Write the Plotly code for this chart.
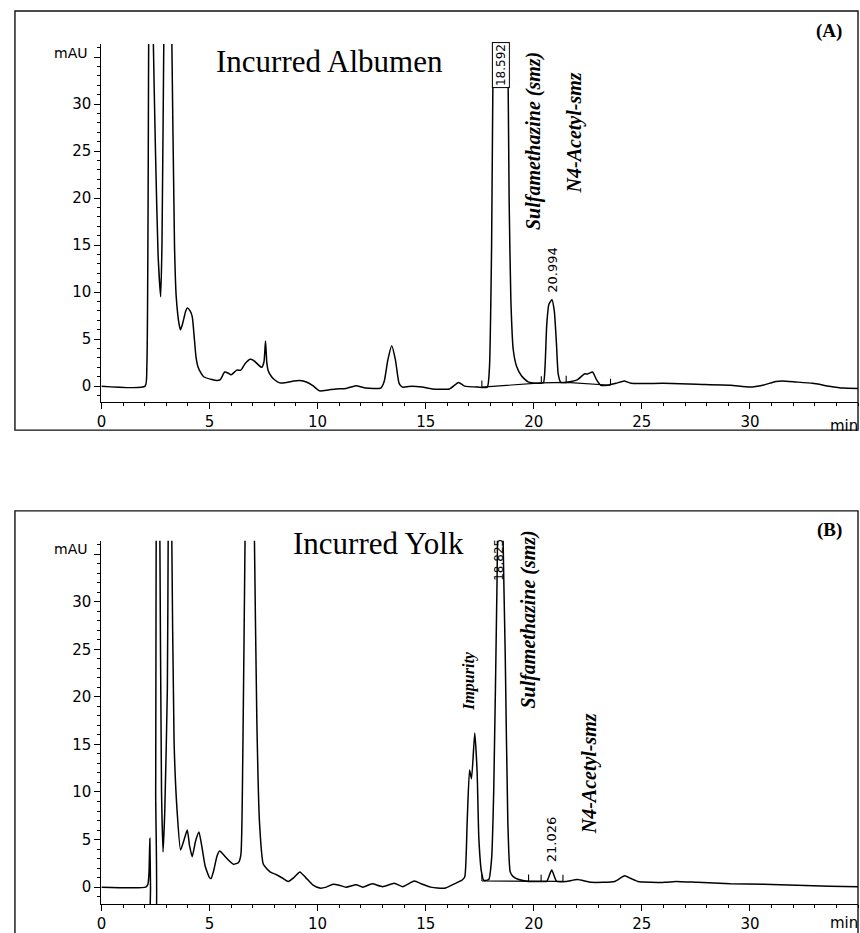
import plotly.graph_objects as go

# ---------------- data ----------------
# Panel A: Incurred Albumen
time_a = [0.0, 2.02, 2.1, 2.16, 2.2, 2.3, 2.39, 2.5, 2.62, 2.74, 2.8, 2.89, 3.05, 3.25, 3.38, 3.46,
          3.6, 3.66, 3.75, 3.9, 3.97, 4.1, 4.2, 4.3, 4.38, 4.46, 4.6, 4.73, 5.11, 5.35, 5.5, 5.7,
          5.85, 6.0, 6.26, 6.45, 6.65, 6.88, 7.03, 7.2, 7.41, 7.52, 7.59, 7.65, 7.72, 7.87, 8.05,
          8.25, 8.56, 8.9, 9.17, 9.48, 9.78, 10.09, 10.5, 10.86, 11.32, 11.77, 12.23, 12.92, 13.08,
          13.25, 13.43, 13.6, 13.77, 13.92, 14.38, 14.84, 15.3, 16.1, 16.52, 16.8, 17.4, 17.85,
          17.95, 18.05, 18.13, 18.45, 18.79, 18.86, 18.94, 19.05, 19.2, 19.43, 19.74, 20.2, 20.45,
          20.52, 20.6, 20.7, 20.84, 20.95, 21.05, 21.13, 21.25, 21.73, 22.03, 22.34, 22.5, 22.72,
          22.9, 23.1, 23.4, 23.8, 24.18, 24.5, 26.0, 27.55, 29.1, 30.0, 30.6, 31.2, 31.5, 32.1,
          32.9, 33.67, 34.3, 35.0]
mau_a = [0.0, 0.0, 2.0, 20.0, 45.0, 60.0, 38.0, 25.0, 14.0, 9.5, 15.0, 38.0, 70.0, 38.0, 15.0, 9.5,
         6.5, 6.0, 6.6, 8.0, 8.3, 8.0, 7.4, 5.0, 3.0, 2.1, 1.4, 1.0, 0.7, 0.6, 0.7, 1.5,
         1.4, 1.2, 1.7, 1.7, 2.4, 2.85, 2.75, 2.4, 2.0, 2.6, 4.8, 2.5, 1.6, 1.0, 0.6,
         0.35, 0.4, 0.55, 0.6, 0.45, 0.05, -0.5, -0.4, -0.3, -0.25, 0.05, -0.2, -0.2, 0.5,
         2.8, 4.3, 2.8, 0.3, -0.1, 0.0, -0.1, -0.3, -0.3, 0.4, 0.0, -0.1, -0.1,
         2.0, 15.0, 38.0, 80.0, 38.0, 19.9, 9.2, 3.9, 2.15, 1.1, 0.45, 0.3, 0.4,
         2.0, 6.5, 8.7, 9.2, 8.0, 4.5, 1.3, 0.4, 0.5, 0.7, 1.3, 1.3, 1.5,
         0.7, 0.1, 0.1, 0.3, 0.55, 0.3, 0.3, 0.2, 0.1, -0.1, 0.1, 0.5, 0.55, 0.45,
         0.3, 0.0, -0.2, -0.25]
base_t_a = [17.6, 20.35, 21.5, 23.55]
base_y_a = [-0.1, 0.35, 0.4, 0.1]

# Panel B: Incurred Yolk
time_b = [0.0, 2.05, 2.15, 2.2, 2.24, 2.27, 2.29, 2.48, 2.51, 2.54, 2.62, 2.7, 2.78, 2.85, 2.93,
          3.05, 3.09, 3.17, 3.25, 3.36, 3.5, 3.66, 3.8, 3.97, 4.08, 4.2, 4.35, 4.51, 4.65, 4.8,
          5.0, 5.07, 5.2, 5.35, 5.47, 5.65, 5.81, 6.11, 6.34, 6.45, 6.54, 6.65, 6.86, 7.07, 7.19,
          7.31, 7.49, 7.8, 8.1, 8.41, 8.64, 8.9, 9.18, 9.45, 9.79, 10.1, 10.4, 10.71, 11.0,
          11.32, 11.78, 12.09, 12.52, 13.01, 13.55, 13.93, 14.47, 14.85, 15.23, 15.54, 15.92,
          16.38, 16.69, 16.81, 16.92, 17.03, 17.12, 17.27, 17.38, 17.46, 17.58, 17.69, 17.92,
          18.05, 18.15, 18.3, 18.33, 18.45, 18.57, 18.68, 18.8, 18.91, 19.05, 19.3, 19.76,
          20.4, 20.6, 20.83, 21.06, 21.5, 22.02, 22.67, 23.74, 24.2, 24.5, 24.81, 26.04,
          26.57, 27.57, 29.1, 30.63, 32.17, 33.7, 35.0]
mau_b = [0.0, 0.0, 0.3, 1.5, 5.1, 0.0, -5.0, -5.0, 10.0, 45.0, 70.0, 38.0, 10.0, 3.7, 8.0,
         20.9, 38.0, 70.0, 38.0, 15.3, 8.0, 3.9, 4.8, 6.0, 4.3, 3.2, 4.8, 5.8, 4.2, 2.2,
         1.0, 0.9, 1.8, 3.3, 3.8, 3.4, 3.0, 2.4, 2.6, 3.4, 13.9, 38.0, 80.0, 38.0, 17.4,
         6.9, 2.4, 1.6, 1.3, 0.9, 0.6, 1.0, 1.6, 1.0, 0.2, -0.1, 0.0, 0.3, 0.2,
         0.0, 0.25, 0.0, 0.35, 0.05, 0.4, 0.05, 0.65, 0.3, 0.0, -0.1, -0.1,
         0.4, 0.75, 1.1, 6.9, 12.3, 11.4, 16.2, 12.1, 5.1, 1.6, 0.7, 0.8,
         3.0, 10.4, 32.0, 38.0, 80.0, 38.0, 24.4, 6.9, 1.6, 1.1, 0.8, 0.6,
         0.6, 0.6, 1.8, 0.6, 0.6, 0.8, 0.5, 0.6, 1.2, 0.9, 0.6, 0.5,
         0.6, 0.5, 0.35, 0.3, 0.2, 0.1, 0.05]
base_t_b = [17.6, 19.76, 20.34, 21.35]
base_y_b = [0.65, 0.62, 0.6, 0.6]

y_ticks = [0, 5, 10, 15, 20, 25, 30, 35]
y_tick_text = ["0", "5", "10", "15", "20", "25", "30", ""]
x_ticks = [0, 5, 10, 15, 20, 25, 30]

W, H = 860, 933
def px(x):
    return x / W
def py(y):
    return 1 - y / H

def event_marks(ts, ys, h=0.7):
    xs, yv = [], []
    for t, y in zip(ts, ys):
        xs += [t, t, None]
        yv += [y, y + h, None]
    return xs, yv

trace_line = dict(color="black", width=1.5, shape="spline", smoothing=0.5)
thin = dict(color="black", width=1.1)

fig = go.Figure()
fig.add_trace(go.Scatter(x=time_a, y=mau_a, mode="lines", line=trace_line,
                         xaxis="x", yaxis="y", showlegend=False, hoverinfo="skip"))
fig.add_trace(go.Scatter(x=base_t_a, y=base_y_a, mode="lines", line=thin,
                         xaxis="x", yaxis="y", showlegend=False, hoverinfo="skip"))
ex, ey = event_marks(base_t_a, base_y_a)
fig.add_trace(go.Scatter(x=ex, y=ey, mode="lines", line=thin,
                         xaxis="x", yaxis="y", showlegend=False, hoverinfo="skip"))

fig.add_trace(go.Scatter(x=time_b, y=mau_b, mode="lines", line=trace_line,
                         xaxis="x2", yaxis="y2", showlegend=False, hoverinfo="skip"))
fig.add_trace(go.Scatter(x=base_t_b, y=base_y_b, mode="lines", line=thin,
                         xaxis="x2", yaxis="y2", showlegend=False, hoverinfo="skip"))
ex, ey = event_marks(base_t_b, base_y_b)
fig.add_trace(go.Scatter(x=ex, y=ey, mode="lines", line=thin,
                         xaxis="x2", yaxis="y2", showlegend=False, hoverinfo="skip"))

tickfont = dict(family="DejaVu Sans", size=15, color="black")
xdom = [px(97), px(858)]

def xaxis_cfg(anchor):
    return dict(domain=xdom, range=[0, 35], anchor=anchor, showline=True, linecolor="black", linewidth=1.4,
                ticks="outside", ticklen=6, tickwidth=1.2, tickcolor="black", tickvals=x_ticks,
                tickfont=tickfont, showgrid=False, zeroline=False,
                minor=dict(dtick=1, ticks="outside", ticklen=3, tickwidth=1, tickcolor="black", showgrid=False))

def yaxis_cfg(anchor, dom, rng):
    return dict(domain=dom, range=rng, anchor=anchor, showline=True, linecolor="black", linewidth=1.4,
                ticks="outside", ticklen=6, tickwidth=1.2, tickcolor="black", tickvals=y_ticks,
                ticktext=y_tick_text, tickfont=tickfont, showgrid=False, zeroline=False,
                minor=dict(dtick=1, ticks="outside", ticklen=3, tickwidth=1, tickcolor="black", showgrid=False))

fig.update_layout(
    width=W, height=H, autosize=False,
    margin=dict(l=0, r=0, t=0, b=0),
    paper_bgcolor="white", plot_bgcolor="white",
    xaxis=xaxis_cfg("y"),
    yaxis=yaxis_cfg("x", [py(403), py(44)], [-1.7, 36.4]),
    xaxis2=xaxis_cfg("y2"),
    yaxis2=yaxis_cfg("x2", [py(906), py(542)], [-1.78, 36.4]),
)

# frames
fig.add_shape(type="rect", xref="paper", yref="paper", x0=px(10), x1=px(858), y0=py(431), y1=py(11),
              line=dict(color="#111", width=1.4), layer="below")
fig.add_shape(type="rect", xref="paper", yref="paper", x0=px(10), x1=px(858), y0=py(950), y1=py(512),
              line=dict(color="#111", width=1.4), layer="below")

serif = "Liberation Serif"
ann = []
ann.append(dict(text="Incurred Albumen", x=px(210), y=py(62), xref="paper", yref="paper", xanchor="left",
                yanchor="middle", showarrow=False, font=dict(family=serif, size=31, color="black")))
ann.append(dict(text="Incurred Yolk", x=px(288), y=py(545), xref="paper", yref="paper", xanchor="left",
                yanchor="middle", showarrow=False, font=dict(family=serif, size=31, color="black")))
ann.append(dict(text="<b>(A)</b>", x=px(829), y=py(31), xref="paper", yref="paper", xanchor="center",
                yanchor="middle", showarrow=False, font=dict(family=serif, size=19, color="black")))
ann.append(dict(text="<b>(B)</b>", x=px(829), y=py(531), xref="paper", yref="paper", xanchor="center",
                yanchor="middle", showarrow=False, font=dict(family=serif, size=19, color="black")))
for yy in (53, 550):
    ann.append(dict(text="mAU", x=px(84), y=py(yy), xref="paper", yref="paper", xanchor="right",
                    yanchor="middle", showarrow=False, font=dict(family="DejaVu Sans", size=14, color="black")))
for yy in (427, 925):
    ann.append(dict(text="min", x=px(828), y=py(yy), xref="paper", yref="paper", xanchor="left",
                    yanchor="middle", showarrow=False, font=dict(family="DejaVu Sans", size=15, color="black")))

ital = dict(family=serif, size=20, color="black")
def vlabel(text, x, y, xr, yr, font, **kw):
    d = dict(text=text, x=x, y=y, xref=xr, yref=yr, xanchor="center", yanchor="middle",
             textangle=-90, showarrow=False, font=font)
    d.update(kw)
    ann.append(d)

vlabel("<b><i>Sulfamethazine (smz)</i></b>", 19.98, 26.1, "x", "y", ital)
vlabel("<b><i>N4-Acetyl-smz</i></b>", 21.87, 26.9, "x", "y", ital)
vlabel("18.592", 18.46, 34.2, "x", "y", dict(family="DejaVu Sans", size=12, color="black"),
       bgcolor="white", bordercolor="black", borderwidth=1, borderpad=1)
vlabel("20.994", 20.85, 12.4, "x", "y", dict(family="DejaVu Sans", size=13, color="black"))
vlabel("<b><i>Sulfamethazine (smz)</i></b>", 19.77, 28.1, "x2", "y2", ital)
vlabel("<b><i>Impurity</i></b>", 17.01, 21.7, "x2", "y2", dict(family=serif, size=16, color="black"))
vlabel("<b><i>N4-Acetyl-smz</i></b>", 22.62, 11.9, "x2", "y2", ital)
vlabel("21.026", 20.83, 5.0, "x2", "y2", dict(family="DejaVu Sans", size=13, color="black"))
vlabel("18.825", 18.39, 34.4, "x2", "y2", dict(family="DejaVu Sans", size=12, color="black"))

fig.update_layout(annotations=ann)
fig.write_html("out.html", config={"displayModeBar": False},
               post_script="document.body.style.margin='0';document.body.style.padding='0';"
                           "document.body.style.overflow='hidden';")
